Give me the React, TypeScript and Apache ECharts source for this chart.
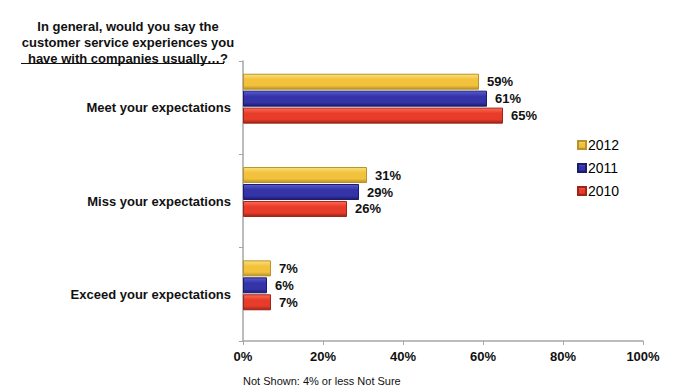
import React, { useEffect, useRef } from "react";
import * as echarts from "echarts";

const categories = ["Exceed your expectations", "Miss your expectations", "Meet your expectations"];
const years = ["2012", "2011", "2010"];
const values2010 = [7, 26, 65];
const values2011 = [6, 29, 61];
const values2012 = [7, 31, 59];
const xTicks = [0, 20, 40, 60, 80, 100];

const seriesColors: Record<string, [string, string, string]> = {
  "2012": ["#FBE07A", "#F2C23C", "#B8922A"],
  "2011": ["#5A5AD0", "#3434A8", "#1C1C6E"],
  "2010": ["#FF6A55", "#E83C2A", "#9C2418"],
};

export default function App() {
  const ref = useRef<HTMLDivElement>(null);
  useEffect(() => {
    if (!ref.current) return;
    const chart = echarts.init(ref.current, null, { renderer: "svg" });
    const font = "Liberation Sans, Arial, Helvetica, sans-serif";
    const dataByYear: Record<string, number[]> = { "2010": values2010, "2011": values2011, "2012": values2012 };
    const mkGrad = (y: string) => {
      const c = seriesColors[y];
      return new echarts.graphic.LinearGradient(0, 0, 0, 1, [
        { offset: 0, color: c[0] },
        { offset: 0.35, color: c[1] },
        { offset: 0.75, color: c[1] },
        { offset: 1, color: c[2] },
      ]);
    };
    chart.setOption({
      animation: false,
      backgroundColor: "#ffffff",
      textStyle: { fontFamily: font },
      title: {
        text: "In general, would you say the\ncustomer service experiences you\nhave with companies usually…?",
        left: 123,
        textAlign: "center",
        top: 13,
        textStyle: { fontSize: 13, fontWeight: "bold", color: "#111", lineHeight: 16, fontFamily: font },
      },
      legend: {
        data: ["2012", "2011", "2010"],
        orient: "vertical",
        left: 572,
        top: 133,
        icon: "rect",
        itemWidth: 8,
        itemHeight: 8,
        itemGap: 9,
        textStyle: { fontSize: 14, color: "#000", fontFamily: font, padding: [0, 0, 0, -3] },
      },
      grid: [
        { left: 243, right: 31, top: 61, bottom: 51, containLabel: false },
        { left: 243, right: 31, top: 52, bottom: 60, containLabel: false },
      ],
      xAxis: [
        {
          gridIndex: 0,
          type: "value",
          min: 0,
          max: 100,
          interval: 20,
          axisLine: { show: true, lineStyle: { color: "#a6a6a6", width: 1.5 } },
          axisTick: { show: true, length: 4, lineStyle: { color: "#a6a6a6" } },
          splitLine: { show: false },
          axisLabel: {
            formatter: (v: number) => (xTicks.includes(v) ? v + "%" : ""),
            fontSize: 13,
            fontWeight: "bold",
            color: "#111",
            margin: 9,
            fontFamily: font,
          },
        },
        { gridIndex: 1, type: "value", min: 0, max: 100, show: false },
      ],
      yAxis: [
        {
          gridIndex: 0,
          type: "category",
          data: categories,
          axisLine: { show: true, lineStyle: { color: "#a6a6a6", width: 1.5 } },
          axisTick: { show: true, length: 4, inside: false, lineStyle: { color: "#a6a6a6" } },
          axisLabel: { fontSize: 13, fontWeight: "bold", color: "#111", margin: 12, fontFamily: font },
        },
        { gridIndex: 1, type: "category", data: categories, show: false },
      ],
      series: years.map((y) => ({
        name: y,
        type: "bar",
        xAxisIndex: 1,
        yAxisIndex: 1,
        data: dataByYear[y],
        barWidth: 16,
        barGap: "6%",
        itemStyle: { color: mkGrad(y), borderColor: seriesColors[y][2], borderWidth: 1 },
        label: {
          show: true,
          position: "right",
          distance: 8,
          formatter: "{c}%",
          fontSize: 13,
          fontWeight: "bold",
          color: "#111",
          fontFamily: font,
        },
      })),
      graphic: [
        {
          type: "line",
          shape: { x1: 21, y1: 63.5, x2: 224, y2: 63.5 },
          style: { stroke: "#111", lineWidth: 1.2 },
        },
        {
          type: "text",
          left: 243,
          top: 375,
          style: { text: "Not Shown: 4% or less Not Sure", fontSize: 11, fill: "#111", fontFamily: font },
        },
      ],
    });
    return () => chart.dispose();
  }, []);
  return <div ref={ref} style={{ position: "fixed", left: 0, top: 0, width: 674, height: 392 }} />;
}
